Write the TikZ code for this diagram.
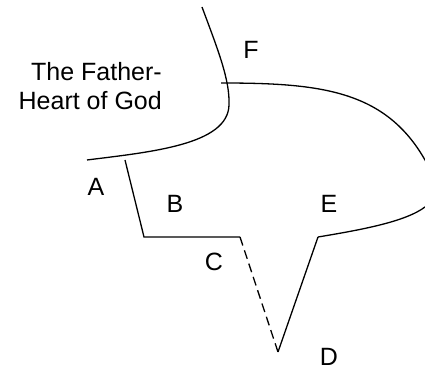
\documentclass[tikz,border=0pt]{standalone}
\usepackage{fontspec}
\setmainfont{Liberation Sans}
\begin{document}
\begin{tikzpicture}[x=1pt,y=-1pt,
  lbl/.style={inner sep=0pt,font=\fontsize{25}{29}\selectfont},
  ln/.style={line width=1.3pt,line join=miter},
  dsh/.style={line width=1.3pt,dash pattern=on 9pt off 5pt}]
\clip (0,0) rectangle (425,371);
% text
\node[lbl,anchor=base east] (t1) at (162,81) {The Father-};
\node[lbl,anchor=base east] (t2) at (162,110) {Heart of God};
\node[lbl] (F) at (251,50) {F};
\node[lbl] (A) at (96,187) {A};
\node[lbl] (B) at (175,204) {B};
\node[lbl] (C) at (214,262) {C};
\node[lbl] (E) at (329,204) {E};
\node[lbl] (D) at (329,357) {D};
% coordinates
\coordinate (c1s) at (202,7);
\coordinate (c1m) at (229,105);
\coordinate (c1e) at (87,160);
\coordinate (c2s) at (221,83);
\coordinate (c2r) at (425,160);
\coordinate (c2b) at (425,207);
\coordinate (pE) at (318,237);
\coordinate (pA) at (125,160);
\coordinate (pB) at (144,237);
\coordinate (pC) at (240,237);
\coordinate (pD) at (278,352);
% curves
\draw[ln] (c1s) .. controls (218,50) and (230,80) .. (c1m)
  .. controls (228,145) and (150,152) .. (c1e);
\draw[ln] (c2s) .. controls (320,83) and (385,90) .. (c2r)
  .. controls (440,185) and (440,200) .. (c2b)
  .. controls (405,222) and (360,230) .. (pE);
% path
\draw[ln] (pA) -- (pB) -- (pC);
\draw[dsh] (pC) -- (pD);
\draw[ln] (pD) -- (pE);
\end{tikzpicture}
\end{document}
